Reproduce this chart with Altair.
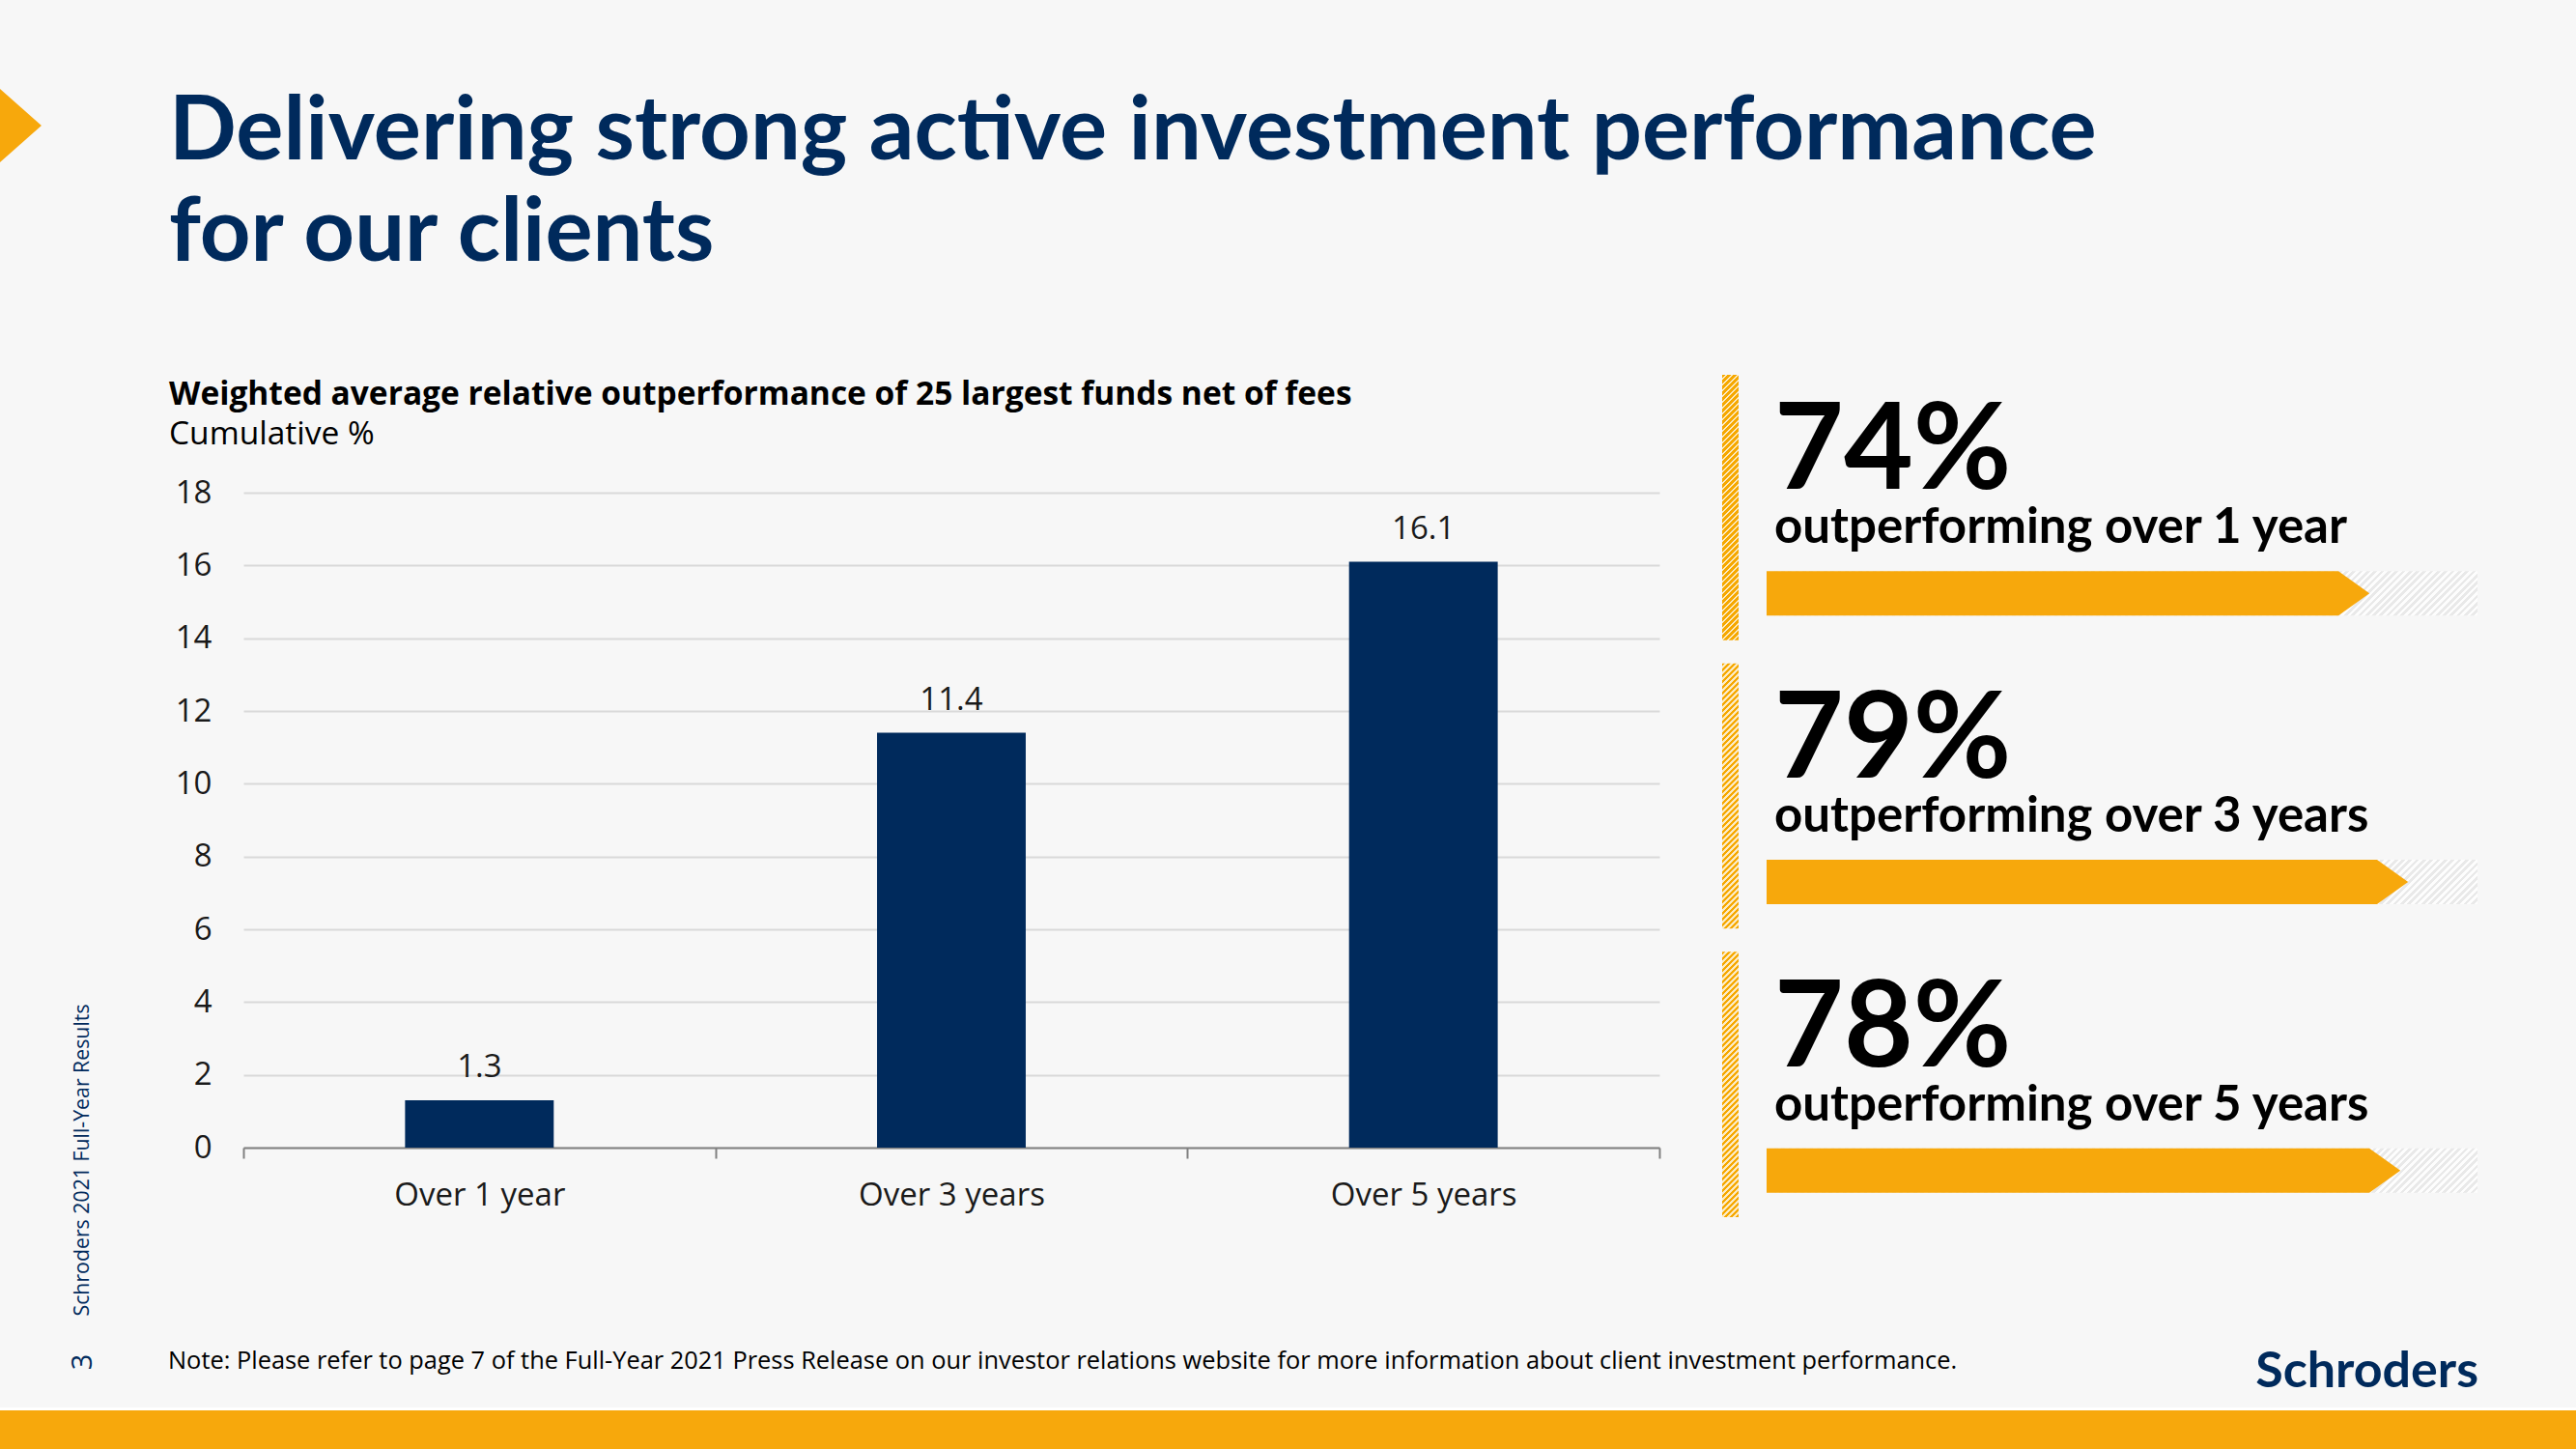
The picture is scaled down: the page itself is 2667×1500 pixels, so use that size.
import math
import altair as alt
import pandas as pd

# ---- data ----
categories = ["Over 1 year", "Over 3 years", "Over 5 years"]
values = [1.3, 11.4, 16.1]
y_ticks = [0, 2, 4, 6, 8, 10, 12, 14, 16, 18]

pct_values = [74, 79, 78]
pct_labels = ["74%", "79%", "78%"]
captions = ["outperforming over 1 year", "outperforming over 3 years", "outperforming over 5 years"]

title_lines = ["Delivering strong active investment performance", "for our clients"]
chart_title = "Weighted average relative outperformance of 25 largest funds net of fees"
chart_subtitle = "Cumulative %"
note_text = "Note: Please refer to page 7 of the Full-Year 2021 Press Release on our investor relations website for more information about client investment performance."
side_text = "Schroders 2021 Full-Year Results"
page_no = "3"
logo_text = "Schroders"

# ---- styles ----
NAVY = "#002A5C"
YELLOW = "#F7A80C"
BG = "#F7F7F7"
TXT = "#1A1A1A"
PL, PT = 252, 510         # padding left / top
W, H = 1466, 678          # plot area
FS = 33


def stripes(w, h, period, c1, c2, duty):
    a = (w + h) / (w * w + h * h)
    n = (w + h) / period
    stops = []
    for i in range(int(math.ceil(n))):
        t0 = min(i / n, 1)
        t1 = min((i + duty) / n, 1)
        t2 = min((i + 1) / n, 1)
        stops += [{"offset": t0, "color": c1}, {"offset": t1, "color": c1},
                  {"offset": t1, "color": c2}, {"offset": t2, "color": c2}]
    return {"gradient": "linear", "x1": 0, "y1": 0, "x2": w * a, "y2": h * a, "stops": stops}


bars_df = pd.DataFrame({"cat": categories, "val": values})
right_df = pd.DataFrame({"row": captions, "pct": pct_values, "plabel": pct_labels})
one = pd.DataFrame({"k": [0]})

xs = alt.Scale(domain=categories, paddingInner=0, paddingOuter=0)
ys = alt.Scale(domain=[0, 18], nice=False)

bars = alt.Chart(bars_df).mark_bar(width={"band": 0.315}, color=NAVY).encode(
    x=alt.X("cat:N", scale=xs, sort=categories,
            axis=alt.Axis(title=None, labelAngle=0, tickBand="extent", domainColor="#808080",
                          domainWidth=2, tickColor="#808080", tickWidth=2, tickSize=11,
                          labelFont="Open Sans", labelFontSize=FS, labelColor=TXT,
                          labelPadding=22, labelLimit=0, grid=False)),
    y=alt.Y("val:Q", scale=ys,
            axis=alt.Axis(title=None, values=y_ticks, grid=True, gridColor="#D9D9D9", gridWidth=2,
                          domain=False, ticks=False, tickSize=0, labelFont="Open Sans",
                          labelFontSize=FS, labelColor=TXT, labelPadding=33)),
)

vlabels = alt.Chart(bars_df).mark_text(font="Open Sans", fontSize=FS, color=TXT,
                                       baseline="alphabetic", dy=-24).encode(
    x=alt.X("cat:N", scale=alt.Scale(type="band", domain=categories, paddingInner=0, paddingOuter=0),
            sort=categories, axis=None),
    y=alt.Y("val:Q", scale=ys, axis=None),
    text=alt.Text("val:Q", format=".1f"),
)

# right panel
rx = alt.Scale(domain=[1, 92], range=[1837 - PL, 2565 - PL])
ry = alt.Scale(type="band", domain=captions, range=[388 - PT, 1260 - PT], paddingInner=0.08, paddingOuter=0)
ARROW_OFF = 89

grey_hatch = alt.Chart(right_df).mark_bar(
    size=46, yOffset=ARROW_OFF,
    fill=stripes(728, 46, 7.3, "#E9E9E9", "#FDFDFD", 0.5)).encode(
    x=alt.X(datum=92, scale=rx, axis=None),
    x2=alt.value(1837 - PL),
    y=alt.Y("row:N", scale=ry, sort=captions, axis=None),
)

arrow_rect = alt.Chart(right_df).mark_bar(size=46, yOffset=ARROW_OFF, color=YELLOW).encode(
    x=alt.X("pct:Q", scale=rx, axis=None),
    x2=alt.value(1837 - PL),
    y=alt.Y("row:N", scale=ry, sort=captions, axis=None),
)

arrow_tip = alt.Chart(right_df).mark_point(
    shape="M0,-1L1.4,0L0,1Z", size=2116, filled=True, opacity=1, color=YELLOW,
    strokeWidth=0, yOffset=ARROW_OFF).encode(
    x=alt.X("pct:Q", scale=rx, axis=None),
    y=alt.Y("row:N", scale=ry, sort=captions, axis=None),
)

yellow_hatch = alt.Chart(right_df).mark_rect(
    fill=stripes(17, 275, 6, "#F6A800", "#FCEBC4", 0.55)).encode(
    x=alt.value(1783 - PL), x2=alt.value(1800 - PL),
    y=alt.Y("row:N", scale=ry, sort=captions, axis=None),
)

pct_text = alt.Chart(right_df).mark_text(font="Lato", fontWeight="bold", fontSize=124, color="#000000",
                                         align="left", baseline="alphabetic", dy=-19).encode(
    x=alt.value(1837 - PL),
    y=alt.Y("row:N", scale=ry, sort=captions, axis=None),
    text="plabel:N",
)

cap_text = alt.Chart(right_df).mark_text(font="Lato", fontWeight="bold", fontSize=51, color="#000000",
                                         align="left", baseline="alphabetic", dy=37).encode(
    x=alt.value(1837 - PL),
    y=alt.Y("row:N", scale=ry, sort=captions, axis=None),
    text="row:N",
)


def txt(s, x, y, **kw):
    return alt.Chart(one).mark_text(text=s, **kw).encode(x=alt.value(x - PL), y=alt.value(y - PT))


title1 = txt(title_lines[0], 175, 165, font="Lato", fontWeight="bold", fontSize=92, color=NAVY,
             align="left", baseline="alphabetic")
title2 = txt(title_lines[1], 175, 270, font="Lato", fontWeight="bold", fontSize=92, color=NAVY,
             align="left", baseline="alphabetic")
ctitle = txt(chart_title, 175, 419, font="Open Sans", fontWeight="bold", fontSize=33.5, color="#000000",
             align="left", baseline="alphabetic")
csub = txt(chart_subtitle, 175, 460, font="Open Sans", fontSize=33.5, color="#000000",
           align="left", baseline="alphabetic")
note = txt(note_text, 174, 1417, font="Open Sans", fontSize=25.4, color="#000000",
           align="left", baseline="alphabetic")
logo = txt(logo_text, 2566, 1436, font="Lato", fontWeight="bold", fontSize=52, color=NAVY,
           align="right", baseline="alphabetic")
vtext = txt(side_text, 86, 1201, font="Open Sans", fontSize=21.3, color=NAVY, angle=270,
            align="center", baseline="middle")
page = txt(page_no, 86, 1410, font="Open Sans", fontSize=29, color=NAVY, angle=270,
           align="center", baseline="middle")

chevron = alt.Chart(one).mark_point(shape="M0,-1L1.13,0L0,1Z", size=5776, filled=True, opacity=1,
                                    color=YELLOW, strokeWidth=0).encode(
    x=alt.value(0 - PL), y=alt.value(130 - PT))

band = alt.Chart(one).mark_rect(color=YELLOW).encode(
    x=alt.value(0 - PL), x2=alt.value(2667 - PL), y=alt.value(1460 - PT), y2=alt.value(1500 - PT))
band_line = alt.Chart(one).mark_rect(color="#FFFFFF").encode(
    x=alt.value(0 - PL), x2=alt.value(2667 - PL), y=alt.value(1457 - PT), y2=alt.value(1460 - PT))

chart = alt.layer(
    bars, vlabels, grey_hatch, arrow_rect, arrow_tip, yellow_hatch, pct_text, cap_text,
    title1, title2, ctitle, csub, note, logo, vtext, page, chevron, band_line, band,
).resolve_scale(x="independent", y="independent").properties(
    width=W, height=H,
    autosize=alt.AutoSizeParams(type="none"),
    padding={"left": PL, "top": PT, "right": 2667 - PL - W, "bottom": 1500 - PT - H},
    background=BG,
).configure_view(stroke=None)

chart.save("out.html", embed_options={"renderer": "svg", "actions": False})
